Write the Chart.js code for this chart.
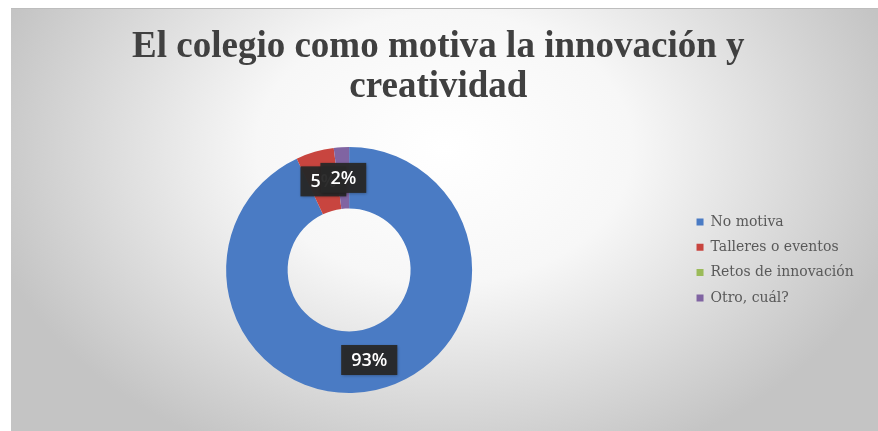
<!DOCTYPE html>
<html>
<head>
<meta charset="utf-8">
<script src="https://cdn.jsdelivr.net/npm/chart.js@4"></script>
<style>
  body { margin: 0; background: #fff; }
  #wrap { position: absolute; left: 11px; top: 8px; width: 867px; height: 423px; }
</style>
</head>
<body>
<div id="wrap"><canvas id="myChart"></canvas></div>
<script>
// data
const titleLines = ['El colegio como motiva la innovación y', 'creatividad'];
const categories = ['No motiva', 'Talleres o eventos', 'Retos de innovación', 'Otro, cuál?'];
const percents = [93, 5, 0, 2];
const sliceColors = ['#4A7BC4', '#C8453F', '#9BBB59', '#8064A2'];

// grey radial background like the office chart area
const backgroundPlugin = {
  id: 'bgFill',
  beforeDraw(chart) {
    const { ctx, width, height } = chart;
    ctx.save();
    ctx.translate(width / 2, 140);
    ctx.scale(1, 0.72);
    const g = ctx.createRadialGradient(0, 0, 0, 0, 0, 470);
    g.addColorStop(0, '#ffffff');
    g.addColorStop(0.4, '#f7f7f7');
    g.addColorStop(1, '#c4c4c4');
    ctx.fillStyle = g;
    ctx.fillRect(-width, -height * 2, width * 2, height * 4);
    ctx.restore();
    ctx.save();
    ctx.fillStyle = '#bdbdbd';
    ctx.fillRect(0, 0, width, 1);
    ctx.restore();
  },
};

// dark boxes with percentage at each slice centre
const sliceLabels = {
  id: 'sliceLabels',
  afterDatasetsDraw(chart) {
    const { ctx } = chart;
    const meta = chart.getDatasetMeta(0);
    ctx.save();
    ctx.font = '600 18px "Open Sans"';
    ctx.textAlign = 'center';
    ctx.textBaseline = 'middle';
    meta.data.forEach((arc, i) => {
      const v = percents[i];
      if (!v) return;
      const p = arc.tooltipPosition();
      const txt = v + '%';
      const w = ctx.measureText(txt).width + 20;
      const h = 30;
      ctx.shadowColor = 'rgba(0,0,0,0.35)';
      ctx.shadowBlur = 3;
      ctx.shadowOffsetX = 1;
      ctx.shadowOffsetY = 1;
      ctx.fillStyle = 'rgba(40,40,40,0.95)';
      ctx.fillRect(p.x - w / 2, p.y - h / 2, w, h);
      ctx.shadowColor = 'transparent';
      ctx.fillStyle = '#ffffff';
      ctx.fillText(txt, p.x, p.y + 1);
    });
    ctx.restore();
  },
};

const ctx = document.getElementById('myChart').getContext('2d');
const motivaChart = new Chart(ctx, {
  type: 'doughnut',
  data: {
    labels: categories,
    datasets: [
      {
        data: percents,
        backgroundColor: sliceColors,
        borderWidth: 0,
        radius: 123,
        cutout: '50%',
      },
    ],
  },
  options: {
    responsive: true,
    maintainAspectRatio: false,
    animation: false,
    layout: { padding: { left: 2, right: 14.3, top: 0, bottom: 8.5 } },
    plugins: {
      title: {
        display: true,
        text: titleLines,
        color: '#404040',
        font: { family: '"Liberation Serif"', weight: 'bold', size: 37, lineHeight: 1.08 },
        padding: { top: 19.5, bottom: 10 },
      },
      legend: {
        position: 'right',
        align: 'start',
        // empty legend title only pushes the entries down to where they sit in the picture
        title: { display: true, text: '', font: { size: 10, lineHeight: 1 }, padding: { top: 185.7, bottom: 0 } },
        labels: {
          boxWidth: 7,
          boxHeight: 7,
          padding: 11.3,
          color: '#595959',
          font: { family: '"DejaVu Serif"', size: 14 },
        },
      },
      tooltip: { enabled: false },
    },
  },
  plugins: [backgroundPlugin, sliceLabels],
});
</script>
</body>
</html>
